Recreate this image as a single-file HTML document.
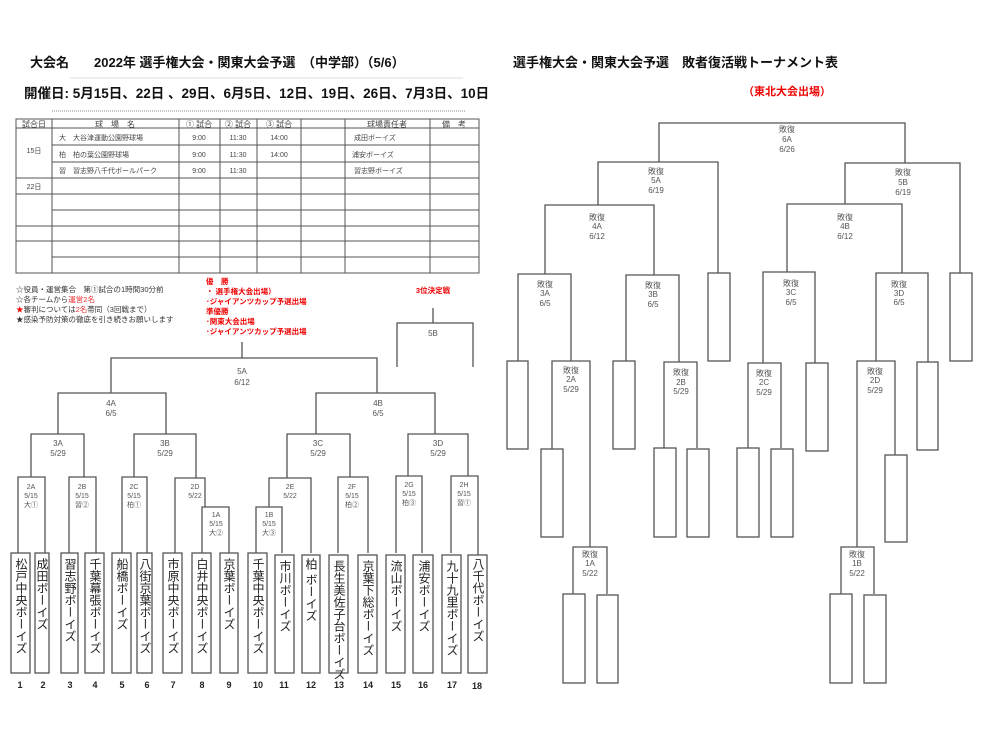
<!DOCTYPE html>
<html><head><meta charset="utf-8"><style>
body{margin:0;background:#fff;}
#w{position:relative;width:990px;height:743px;overflow:hidden;font-family:"Liberation Sans","Noto Sans CJK JP",sans-serif;}
svg{position:absolute;left:0;top:0;}
.v{position:absolute;writing-mode:vertical-rl;font-size:12px;color:#222;line-height:18px;letter-spacing:0px;}
</style></head><body><div id="w">
<svg width="990" height="743" viewBox="0 0 990 743" font-family="Liberation Sans, Noto Sans CJK JP, sans-serif">
<g font-weight="bold" fill="#111">
<text x="30" y="67" font-size="13">大会名</text>
<text x="94" y="67" font-size="13">2022年 選手権大会・関東大会予選　（中学部）（5/6）</text>
<text x="24" y="98" font-size="13.5">開催日: 5月15日、22日 、29日、6月5日、12日、19日、26日、7月3日、10日</text>
<text x="513" y="67" font-size="13">選手権大会・関東大会予選　敗者復活戦トーナメント表</text>
</g>
<text x="787" y="95" font-size="11" font-weight="bold" fill="#e00" text-anchor="middle">（東北大会出場）</text>
<line x1="70" y1="78" x2="463" y2="78" stroke="#ddd"/>
<line x1="52" y1="111" x2="466" y2="111" stroke="#888" stroke-dasharray="1,1"/>
<!-- table -->
<g stroke="#555" stroke-width="1" fill="none">
<rect x="16" y="119" width="463" height="154"/>
<line x1="16" y1="128" x2="479" y2="128"/>
<line x1="52" y1="145" x2="479" y2="145"/><line x1="52" y1="162" x2="479" y2="162"/>
<line x1="16" y1="178" x2="479" y2="178"/><line x1="16" y1="194" x2="479" y2="194"/>
<line x1="52" y1="210" x2="479" y2="210"/><line x1="16" y1="226" x2="479" y2="226"/>
<line x1="16" y1="241" x2="479" y2="241"/><line x1="52" y1="257" x2="479" y2="257"/>
<line x1="52" y1="119" x2="52" y2="273"/><line x1="179" y1="119" x2="179" y2="273"/>
<line x1="220" y1="119" x2="220" y2="273"/><line x1="257" y1="119" x2="257" y2="273"/>
<line x1="301" y1="119" x2="301" y2="273"/><line x1="345" y1="119" x2="345" y2="273"/>
<line x1="430" y1="119" x2="430" y2="273"/>
</g>
<g font-size="8" fill="#444">
<text x="34" y="127" text-anchor="middle">試合日</text>
<text x="115" y="127" text-anchor="middle">球　場　名</text>
<text x="199" y="127" text-anchor="middle">① 試合</text>
<text x="238" y="127" text-anchor="middle">② 試合</text>
<text x="279" y="127" text-anchor="middle">③ 試合</text>
<text x="387" y="127" text-anchor="middle">球場責任者</text>
<text x="454" y="127" text-anchor="middle">備　考</text>
<text x="34" y="153" text-anchor="middle" font-size="7">15日</text>
<text x="34" y="189" text-anchor="middle" font-size="7">22日</text>
<g font-size="7">
<text x="59" y="140">大　大谷津運動公園野球場</text>
<text x="59" y="157">柏　柏の葉公園野球場</text>
<text x="59" y="173">習　習志野八千代ボールパーク</text>
<text x="199" y="140" text-anchor="middle">9:00</text><text x="238" y="140" text-anchor="middle">11:30</text><text x="279" y="140" text-anchor="middle">14:00</text>
<text x="199" y="157" text-anchor="middle">9:00</text><text x="238" y="157" text-anchor="middle">11:30</text><text x="279" y="157" text-anchor="middle">14:00</text>
<text x="199" y="173" text-anchor="middle">9:00</text><text x="238" y="173" text-anchor="middle">11:30</text>
<text x="354" y="140">成田ボーイズ</text><text x="352" y="157">浦安ボーイズ</text><text x="354" y="173">習志野ボーイズ</text>
</g>
</g>
<!-- notes -->
<g font-size="7.5" fill="#333">
<text x="16" y="292">☆役員・運営集合　第①試合の1時間30分前</text>
<text x="16" y="302">☆各チームから<tspan fill="#e33">運営2名</tspan></text>
<text x="16" y="312"><tspan fill="#e00">★</tspan>審判については<tspan fill="#e33">2名</tspan>帯同（3回戦まで）</text>
<text x="16" y="322">★感染予防対策の徹底を引き続きお願いします</text>
</g>
<g font-size="7.5" fill="#e00" font-weight="bold">
<text x="206" y="284">優　勝</text>
<text x="206" y="294">・ 選手権大会出場）</text>
<text x="206" y="304">･ジャイアンツカップ予選出場</text>
<text x="206" y="314">準優勝</text>
<text x="206" y="324">･関東大会出場</text>
<text x="206" y="334">･ジャイアンツカップ予選出場</text>
<text x="433" y="293" text-anchor="middle">3位決定戦</text>
</g>
<!-- left bracket -->
<g stroke="#555" stroke-width="1.3" fill="none">
<polyline points="433,308 433,323"/><polyline points="397,367 397,323 473,323 473,367"/>
<polyline points="242,342 242,358"/>
<polyline points="111,393 111,358 377,358 377,393"/>
<polyline points="58,434 58,393 166,393 166,434"/>
<polyline points="316,434 316,393 435,393 435,434"/>
<polyline points="31,477 31,434 84,434 84,477"/>
<polyline points="134,477 134,434 196,434 196,478"/>
<polyline points="287,478 287,434 350,434 350,477"/>
<polyline points="408,476 408,434 468,434 468,476"/>
<polyline points="18,553 18,477 45,477 45,553"/>
<polyline points="69,553 69,477 96,477 96,553"/>
<polyline points="122,553 122,477 147,477 147,553"/>
<polyline points="175,553 175,478 205,478 205,507"/>
<polyline points="202,553 202,507 229,507 229,553"/>
<polyline points="311,553 311,478 269,478 269,507"/>
<polyline points="256,553 256,507 282,507 282,553"/>
<polyline points="338,553 338,477 368,477 368,553"/>
<polyline points="396,553 396,476 422,476 422,553"/>
<polyline points="451,553 451,476 478,476 478,555"/>
<rect x="11" y="553" width="19" height="120"/><rect x="35" y="553" width="14" height="120"/>
<rect x="61" y="553" width="17" height="120"/><rect x="85" y="553" width="19" height="120"/>
<rect x="112" y="553" width="19" height="120"/><rect x="137" y="553" width="15" height="120"/>
<rect x="163" y="553" width="19" height="120"/><rect x="192" y="553" width="19" height="120"/>
<rect x="220" y="553" width="18" height="120"/><rect x="248" y="553" width="19" height="120"/>
<rect x="275" y="555" width="19" height="118"/><rect x="302" y="555" width="18" height="118"/>
<rect x="329" y="555" width="19" height="118"/><rect x="358" y="555" width="19" height="118"/>
<rect x="386" y="555" width="19" height="118"/><rect x="413" y="555" width="20" height="118"/>
<rect x="442" y="555" width="19" height="118"/><rect x="468" y="555" width="19" height="118"/>
</g>
<g font-size="8" fill="#555" text-anchor="middle">
<text x="433" y="336">5B</text>
<text x="242" y="374">5A</text><text x="242" y="385">6/12</text>
<text x="111" y="406">4A</text><text x="111" y="416">6/5</text>
<text x="378" y="406">4B</text><text x="378" y="416">6/5</text>
<text x="58" y="446">3A</text><text x="58" y="456">5/29</text>
<text x="165" y="446">3B</text><text x="165" y="456">5/29</text>
<text x="318" y="446">3C</text><text x="318" y="456">5/29</text>
<text x="438" y="446">3D</text><text x="438" y="456">5/29</text>
<g font-size="7">
<text x="31" y="489">2A</text><text x="31" y="498">5/15</text><text x="31" y="507">大①</text>
<text x="82" y="489">2B</text><text x="82" y="498">5/15</text><text x="82" y="507">習②</text>
<text x="134" y="489">2C</text><text x="134" y="498">5/15</text><text x="134" y="507">柏①</text>
<text x="195" y="489">2D</text><text x="195" y="498">5/22</text>
<text x="216" y="517">1A</text><text x="216" y="526">5/15</text><text x="216" y="535">大②</text>
<text x="290" y="489">2E</text><text x="290" y="498">5/22</text>
<text x="269" y="517">1B</text><text x="269" y="526">5/15</text><text x="269" y="535">大③</text>
<text x="352" y="489">2F</text><text x="352" y="498">5/15</text><text x="352" y="507">柏②</text>
<text x="409" y="487">2G</text><text x="409" y="496">5/15</text><text x="409" y="505">柏③</text>
<text x="464" y="487">2H</text><text x="464" y="496">5/15</text><text x="464" y="505">習①</text>
</g>
</g>
<g font-size="9" font-weight="bold" fill="#222" text-anchor="middle">
<text x="20" y="688">1</text><text x="43" y="688">2</text><text x="70" y="688">3</text><text x="95" y="688">4</text>
<text x="122" y="688">5</text><text x="147" y="688">6</text><text x="173" y="688">7</text><text x="202" y="688">8</text>
<text x="229" y="688">9</text><text x="258" y="688">10</text><text x="284" y="688">11</text><text x="311" y="688">12</text>
<text x="339" y="688">13</text><text x="368" y="688">14</text><text x="396" y="688">15</text><text x="423" y="688">16</text>
<text x="452" y="688">17</text><text x="477" y="689">18</text>
</g>
<!-- right bracket -->
<g stroke="#555" stroke-width="1.3" fill="none">
<polyline points="659,162 659,123 905,123 905,163"/>
<polyline points="598,205 598,162 718,162 718,273"/>
<polyline points="845,204 845,163 960,163 960,273"/>
<polyline points="545,274 545,205 654,205 654,275"/>
<polyline points="787,272 787,204 902,204 902,273"/>
<polyline points="518,361 518,274 571,274 571,361"/>
<polyline points="626,361 626,275 679,275 679,362"/>
<polyline points="763,363 763,272 815,272 815,363"/>
<polyline points="876,361 876,273 928,273 928,362"/>
<polyline points="552,449 552,361 590,361 590,547"/>
<polyline points="573,594 573,547 607,547 607,594"/>
<polyline points="664,448 664,362 697,362 697,448"/>
<polyline points="748,448 748,363 781,363 781,448"/>
<polyline points="895,455 895,361 857,361 857,547"/>
<polyline points="841,594 841,547 874,547 874,594"/>
<rect x="708" y="273" width="22" height="88"/><rect x="950" y="273" width="22" height="88"/>
<rect x="507" y="361" width="21" height="88"/><rect x="613" y="361" width="22" height="88"/>
<rect x="806" y="363" width="22" height="88"/><rect x="917" y="362" width="21" height="88"/>
<rect x="541" y="449" width="22" height="88"/>
<rect x="654" y="448" width="22" height="89"/><rect x="687" y="449" width="22" height="88"/>
<rect x="737" y="448" width="22" height="89"/><rect x="771" y="449" width="22" height="88"/>
<rect x="885" y="455" width="22" height="87"/>
<rect x="563" y="594" width="22" height="89"/><rect x="597" y="595" width="21" height="88"/>
<rect x="830" y="594" width="22" height="89"/><rect x="864" y="595" width="22" height="88"/>
</g>
<g font-size="8" fill="#555" text-anchor="middle">
<text x="787" y="132">敗復</text><text x="787" y="142">6A</text><text x="787" y="152">6/26</text>
<text x="656" y="174">敗復</text><text x="656" y="183">5A</text><text x="656" y="193">6/19</text>
<text x="903" y="175">敗復</text><text x="903" y="185">5B</text><text x="903" y="195">6/19</text>
<text x="597" y="220">敗復</text><text x="597" y="229">4A</text><text x="597" y="239">6/12</text>
<text x="845" y="220">敗復</text><text x="845" y="229">4B</text><text x="845" y="239">6/12</text>
<text x="545" y="287">敗復</text><text x="545" y="296">3A</text><text x="545" y="306">6/5</text>
<text x="653" y="288">敗復</text><text x="653" y="297">3B</text><text x="653" y="307">6/5</text>
<text x="791" y="286">敗復</text><text x="791" y="295">3C</text><text x="791" y="305">6/5</text>
<text x="899" y="287">敗復</text><text x="899" y="296">3D</text><text x="899" y="305">6/5</text>
<text x="571" y="373">敗復</text><text x="571" y="382">2A</text><text x="571" y="392">5/29</text>
<text x="681" y="375">敗復</text><text x="681" y="385">2B</text><text x="681" y="394">5/29</text>
<text x="764" y="376">敗復</text><text x="764" y="385">2C</text><text x="764" y="395">5/29</text>
<text x="875" y="374">敗復</text><text x="875" y="383">2D</text><text x="875" y="393">5/29</text>
<text x="590" y="557">敗復</text><text x="590" y="566">1A</text><text x="590" y="576">5/22</text>
<text x="857" y="557">敗復</text><text x="857" y="566">1B</text><text x="857" y="576">5/22</text>
</g>
</svg>
<div class="v" style="left:11px;top:558px;width:19px;">松戸中央ボーイズ</div>
<div class="v" style="left:33px;top:558px;width:18px;">成田ボーイズ</div>
<div class="v" style="left:60px;top:558px;width:19px;">習志野ボーイズ</div>
<div class="v" style="left:85px;top:558px;width:19px;">千葉幕張ボーイズ</div>
<div class="v" style="left:112px;top:558px;width:19px;">船橋ボーイズ</div>
<div class="v" style="left:135px;top:558px;width:19px;">八街京葉ボーイズ</div>
<div class="v" style="left:163px;top:558px;width:19px;">市原中央ボーイズ</div>
<div class="v" style="left:192px;top:558px;width:19px;">白井中央ボーイズ</div>
<div class="v" style="left:220px;top:558px;width:18px;">京葉ボーイズ</div>
<div class="v" style="left:248px;top:558px;width:19px;">千葉中央ボーイズ</div>
<div class="v" style="left:275px;top:560px;width:19px;">市川ボーイズ</div>
<div class="v" style="left:302px;top:558px;width:18px;">柏 ボーイズ</div>
<div class="v" style="left:329px;top:560px;width:19px;">長生美佐子台ボーイズ</div>
<div class="v" style="left:358px;top:560px;width:19px;">京葉下総ボーイズ</div>
<div class="v" style="left:386px;top:560px;width:19px;">流山ボーイズ</div>
<div class="v" style="left:413px;top:560px;width:20px;">浦安ボーイズ</div>
<div class="v" style="left:442px;top:560px;width:19px;">九十九里ボーイズ</div>
<div class="v" style="left:468px;top:558px;width:19px;">八千代ボーイズ</div>
</div></body></html>
